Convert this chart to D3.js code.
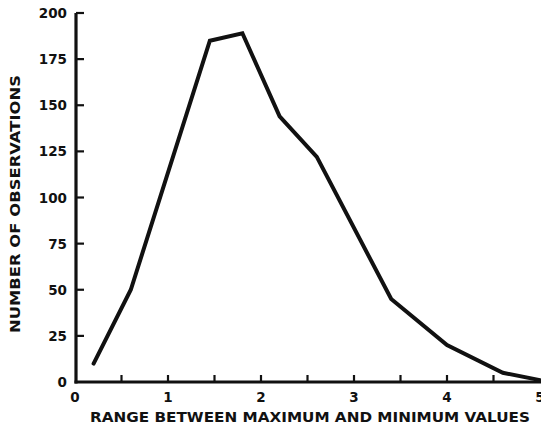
<!DOCTYPE html>
<html>
<head>
<meta charset="utf-8">
<script src="https://cdn.jsdelivr.net/npm/d3@7"></script>
<style>
  body { margin: 0; background: #fff; }
  svg { display: block; }
  text { font-family: "DejaVu Sans", sans-serif; font-weight: bold; fill: #111; }
</style>
</head>
<body>
<svg id="chart" width="541" height="426"></svg>
<script>
const rangeValues = [0.2, 0.6, 1.45, 1.8, 2.2, 2.6, 3.4, 4.0, 4.6, 5.0];
const observations = [10, 50, 185, 189, 144, 122, 45, 20, 5, 1];
const xTicks = [0, 1, 2, 3, 4, 5];
const xMinorTicks = [0.5, 1, 1.5, 2, 2.5, 3, 3.5, 4, 4.5];
const yTicks = [0, 25, 50, 75, 100, 125, 150, 175, 200];

const svg = d3.select("#chart");
const x = d3.scaleLinear().domain([0, 5]).range([75, 540]);
const y = d3.scaleLinear().domain([0, 200]).range([382, 13]);
const axisX = 76;

// y axis: line + inward ticks
const yAxis = svg.append("g").attr("transform", `translate(${axisX},0)`);
yAxis.append("line")
  .attr("x1", 0).attr("x2", 0)
  .attr("y1", y(200)).attr("y2", y(0) + 1.5)
  .attr("stroke", "#111").attr("stroke-width", 3.2);
yAxis.selectAll(".tick")
  .data(yTicks.filter((d) => d > 0))
  .join("line")
  .attr("x1", 0).attr("x2", 8)
  .attr("y1", (d) => y(d)).attr("y2", (d) => y(d))
  .attr("stroke", "#111").attr("stroke-width", 2.2);
svg.append("g").selectAll("text")
  .data(yTicks)
  .join("text")
  .attr("x", 67)
  .attr("y", (d) => y(d) + 5)
  .attr("text-anchor", "end")
  .attr("font-size", "13.5px")
  .text((d) => d);

// x axis: line + inward ticks
const xAxis = svg.append("g").attr("transform", `translate(0,${y(0)})`);
xAxis.append("line")
  .attr("x1", axisX - 1.5).attr("x2", 541)
  .attr("y1", 0).attr("y2", 0)
  .attr("stroke", "#111").attr("stroke-width", 3.2);
xAxis.selectAll(".tick")
  .data(xMinorTicks)
  .join("line")
  .attr("x1", (d) => x(d)).attr("x2", (d) => x(d))
  .attr("y1", 0).attr("y2", -7)
  .attr("stroke", "#111").attr("stroke-width", 2.2);
svg.append("g").selectAll("text")
  .data(xTicks)
  .join("text")
  .attr("x", (d) => x(d))
  .attr("y", 402)
  .attr("text-anchor", "middle")
  .attr("font-size", "13.5px")
  .text((d) => d);

// axis titles
svg.append("text")
  .attr("x", 310).attr("y", 422)
  .attr("text-anchor", "middle")
  .attr("font-size", "13.5px")
  .attr("textLength", 440)
  .attr("lengthAdjust", "spacingAndGlyphs")
  .text("RANGE BETWEEN MAXIMUM AND MINIMUM VALUES");

svg.append("text")
  .attr("transform", "translate(20,204) rotate(-90)")
  .attr("text-anchor", "middle")
  .attr("font-size", "13.5px")
  .attr("textLength", 258)
  .attr("lengthAdjust", "spacingAndGlyphs")
  .text("NUMBER OF OBSERVATIONS");

// the curve
const line = d3.line()
  .x((d, i) => x(rangeValues[i]))
  .y((d) => y(d));
svg.append("path")
  .datum(observations)
  .attr("d", line)
  .attr("fill", "none")
  .attr("stroke", "#111")
  .attr("stroke-width", 4)
  .attr("stroke-linejoin", "miter")
  .attr("stroke-linecap", "round");
</script>
</body>
</html>
